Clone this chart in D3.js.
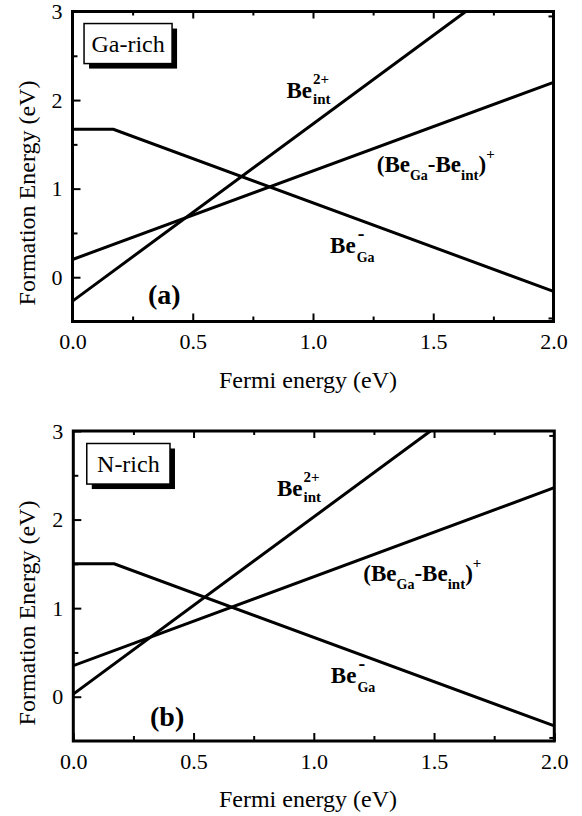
<!DOCTYPE html>
<html>
<head>
<meta charset="utf-8">
<script src="https://cdn.jsdelivr.net/npm/d3@7.9.0/dist/d3.min.js"></script>
<style>
  body { margin: 0; background: #fff; }
  svg { display: block; }
</style>
</head>
<body>
<svg id="chart" width="582" height="816"></svg>
<script>
// (a) Ga-rich : [fermi energy, formation energy]
const beGaA = [[0, 1.67], [0.17, 1.67], [2.0, -0.16]];
const beIntA = [[0, -0.27], [1.635, 3.0]];
const complexA = [[0, 0.2], [2.0, 2.2]];

// (b) N-rich
const beGaB = [[0, 1.5], [0.17, 1.5], [2.0, -0.33]];
const beIntB = [[0, 0.03], [1.485, 3.0]];
const complexB = [[0, 0.35], [2.0, 2.36]];

const xTicks = [0, 0.5, 1.0, 1.5, 2.0];
const xMinor = [0.25, 0.75, 1.25, 1.75];
const yTicks = [0, 1, 2, 3];
const yMinor = [0.5, 1.5, 2.5];
const rightTicks = [2.95, -0.46];
const xTitle = 'Fermi energy (eV)';
const yTitle = 'Formation Energy (eV)';

const serif = '"Liberation Serif", "DejaVu Serif", "Times New Roman", Times, serif';

const panels = [
  { left: 72.5, top: 11.5, box: 'Ga-rich', tag: '(a)',
    series: [beGaA, beIntA, complexA],
    boxPos: [0.048, 2.864, 0.414, 2.412],
    intPos: [0.89, 2.02], cplxPos: [1.265, 1.19], gaPos: [1.071, 0.268], tagPos: [0.314, -0.305],
    yTitleY: 193 },
  { left: 73.3, top: 431, box: 'N-rich', tag: '(b)',
    series: [beGaB, beIntB, complexB],
    boxPos: [0.056, 2.859, 0.402, 2.401],
    intPos: [0.847, 2.27], cplxPos: [1.206, 1.31], gaPos: [1.071, 0.158], tagPos: [0.319, -0.33],
    yTitleY: 613 }
];

const W = 481, H = 310;
const svg = d3.select('#chart');

panels.forEach((p, pi) => {
  const g = svg.append('g').attr('transform', `translate(${p.left},${p.top})`);
  const x = d3.scaleLinear().domain([0, 2]).range([0, W]);
  const y = d3.scaleLinear().domain([-0.5, 3]).range([H, 0]);

  g.append('clipPath').attr('id', 'clip' + pi)
    .append('rect').attr('width', W).attr('height', H);

  // axes, ticks point inward
  const styleAxis = (sel) => {
    sel.attr('font-family', serif);
    sel.select('.domain').remove();
    sel.selectAll('line').attr('stroke', '#000').attr('stroke-width', 2);
    sel.selectAll('text').attr('fill', '#000').attr('font-size', 22);
  };
  g.append('g').attr('transform', `translate(0,${H})`)
    .call(d3.axisBottom(x).tickValues(xTicks).tickFormat(d3.format('.1f')).tickSize(-8).tickPadding(12))
    .call(styleAxis);
  g.append('g').attr('transform', `translate(0,${H})`)
    .call(d3.axisBottom(x).tickValues(xMinor).tickFormat('').tickSize(-5))
    .call(styleAxis);
  g.append('g')
    .call(d3.axisTop(x).tickValues(xTicks.slice(1, -1)).tickFormat('').tickSize(-7))
    .call(styleAxis);
  g.append('g')
    .call(d3.axisTop(x).tickValues(xMinor).tickFormat('').tickSize(-4))
    .call(styleAxis);
  g.append('g')
    .call(d3.axisLeft(y).tickValues(yTicks).tickFormat(d3.format('d')).tickSize(-8).tickPadding(10))
    .call(styleAxis);
  g.append('g')
    .call(d3.axisLeft(y).tickValues(yMinor).tickFormat('').tickSize(-5))
    .call(styleAxis);
  g.append('g').attr('transform', `translate(${W},0)`)
    .call(d3.axisRight(y).tickValues(rightTicks).tickFormat('').tickSize(-5))
    .call(styleAxis);

  g.append('rect').attr('width', W).attr('height', H)
    .attr('fill', 'none').attr('stroke', '#000').attr('stroke-width', 3);

  const line = d3.line().x(d => x(d[0])).y(d => y(d[1]));
  p.series.forEach(s => {
    g.append('path').attr('d', line(s))
      .attr('clip-path', `url(#clip${pi})`)
      .attr('fill', 'none').attr('stroke', '#000').attr('stroke-width', 3)
      .attr('stroke-linejoin', 'miter');
  });

  // condition box with shadow
  const bx = x(p.boxPos[0]), by = y(p.boxPos[1]);
  const bw = x(p.boxPos[2]) - bx, bh = y(p.boxPos[3]) - by;
  g.append('rect').attr('x', bx + 5).attr('y', by + 5).attr('width', bw).attr('height', bh).attr('fill', '#000');
  g.append('rect').attr('x', bx).attr('y', by).attr('width', bw).attr('height', bh)
    .attr('fill', '#fff').attr('stroke', '#000').attr('stroke-width', 1.5);
  g.append('text').attr('x', bx + bw / 2).attr('y', by + bh / 2 + 8)
    .attr('text-anchor', 'middle').attr('font-size', 24).text(p.box);

  // Be_int^2+
  const t1 = g.append('text').attr('font-family', serif).attr('x', x(p.intPos[0])).attr('y', y(p.intPos[1]))
    .attr('font-size', 23).attr('font-weight', 'bold').text('Be');
  const w1 = t1.node().getComputedTextLength();
  g.append('text').attr('x', x(p.intPos[0]) + w1 + 1).attr('y', y(p.intPos[1]) - 14)
    .attr('font-size', 15).attr('font-weight', 'bold').text('2+');
  g.append('text').attr('x', x(p.intPos[0]) + w1 + 1).attr('y', y(p.intPos[1]) + 6)
    .attr('font-size', 15).attr('font-weight', 'bold').text('int');

  // (Be_Ga-Be_int)^+
  const t2 = g.append('text').attr('x', x(p.cplxPos[0])).attr('y', y(p.cplxPos[1]))
    .attr('font-size', 23).attr('font-weight', 'bold');
  t2.append('tspan').text('(Be');
  t2.append('tspan').attr('font-size', 14).attr('dy', 8).text('Ga');
  t2.append('tspan').attr('dy', -8).text('-Be');
  t2.append('tspan').attr('font-size', 15).attr('dy', 8).text('int');
  t2.append('tspan').attr('dy', -8).text(')');
  t2.append('tspan').attr('font-size', 15).attr('dy', -13).text('+');

  // Be_Ga^-
  const t3 = g.append('text').attr('font-family', serif).attr('x', x(p.gaPos[0])).attr('y', y(p.gaPos[1]))
    .attr('font-size', 23).attr('font-weight', 'bold').text('Be');
  const w3 = t3.node().getComputedTextLength();
  g.append('text').attr('x', x(p.gaPos[0]) + w3 + 2).attr('y', y(p.gaPos[1]) - 13)
    .attr('font-size', 20).attr('font-weight', 'bold').text('-');
  g.append('text').attr('x', x(p.gaPos[0]) + w3 + 1).attr('y', y(p.gaPos[1]) + 9)
    .attr('font-size', 14).attr('font-weight', 'bold').text('Ga');

  g.append('text').attr('x', x(p.tagPos[0])).attr('y', y(p.tagPos[1]))
    .attr('font-size', 28).attr('font-weight', 'bold').text(p.tag);

  // titles
  g.append('text').attr('x', 308 - p.left).attr('y', H + 66)
    .attr('text-anchor', 'middle').attr('font-size', 24).text(xTitle);
  svg.append('text').attr('transform', `translate(35,${p.yTitleY}) rotate(-90)`)
    .attr('text-anchor', 'middle').attr('font-size', 24).text(yTitle);
});

svg.selectAll('text').attr('font-family', serif).attr('fill', '#000');
</script>
</body>
</html>
